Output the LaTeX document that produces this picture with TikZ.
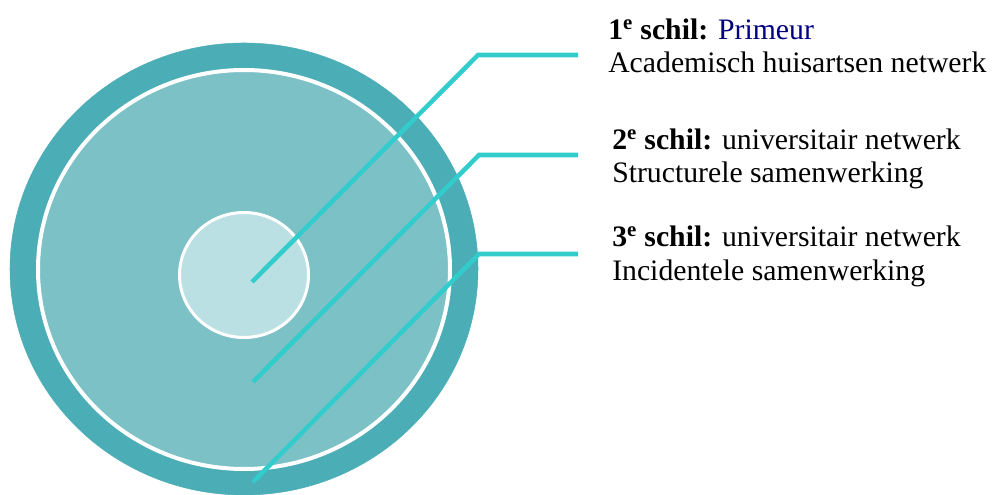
\documentclass[tikz,border=0pt]{standalone}
\usepackage{fontspec}
\setmainfont{Liberation Serif}

\begin{document}
\begin{tikzpicture}[x=0.75pt,y=0.75pt,yscale=-1,xscale=1]
\useasboundingbox (0,0) rectangle (995,495);
\tikzset{shelltext/.style={anchor=base west,inner sep=0pt,align=left,font=\fontsize{22.3}{25}\selectfont},
  leader/.style={color={rgb, 255:red, 51; green, 204; blue, 204 },line width=3.4pt}}

%Shape: Ellipse [id:outer shell] 
\draw [color={rgb, 255:red, 75; green, 173; blue, 181 }, fill={rgb, 255:red, 75; green, 173; blue, 181 }] (244,269) ellipse (234 and 226);
%Shape: Ellipse [id:middle shell] 
\draw [color=white, line width=3pt, fill={rgb, 255:red, 124; green, 193; blue, 198 }] (244,269.5) ellipse (206 and 199.5);
%Shape: Ellipse [id:core] 
\draw [color=white, line width=2.25pt, fill={rgb, 255:red, 187; green, 224; blue, 227 }] (244,275) ellipse (64.5 and 62.5);

% Text Node
\draw (608,73) node (shell1) [shelltext] {\textbf{1\textsuperscript{e} schil:} \textcolor[rgb]{0,0,0.5}{Primeur}\\Academisch huisartsen netwerk};
% Text Node
\draw (612,183) node (shell2) [shelltext] {\textbf{2\textsuperscript{e} schil:} universitair netwerk\\Structurele samenwerking};
% Text Node
\draw (612,280) node (shell3) [shelltext] {\textbf{3\textsuperscript{e} schil:} universitair netwerk\\Incidentele samenwerking};

\coordinate (s1) at (252,282); \coordinate (k1) at (478,55); \coordinate (e1) at (578,55);
\coordinate (s2) at (253,382); \coordinate (k2) at (479,155); \coordinate (e2) at (578,155);
\coordinate (s3) at (253,482); \coordinate (k3) at (479,254); \coordinate (e3) at (578,254);

%Straight Lines [id:leader 1] 
\draw [leader] (s1) -- (k1) -- (e1) ;
%Straight Lines [id:leader 2] 
\draw [leader] (s2) -- (k2) -- (e2) ;
%Straight Lines [id:leader 3] 
\draw [leader] (s3) -- (k3) -- (e3) ;
\end{tikzpicture}
\end{document}
